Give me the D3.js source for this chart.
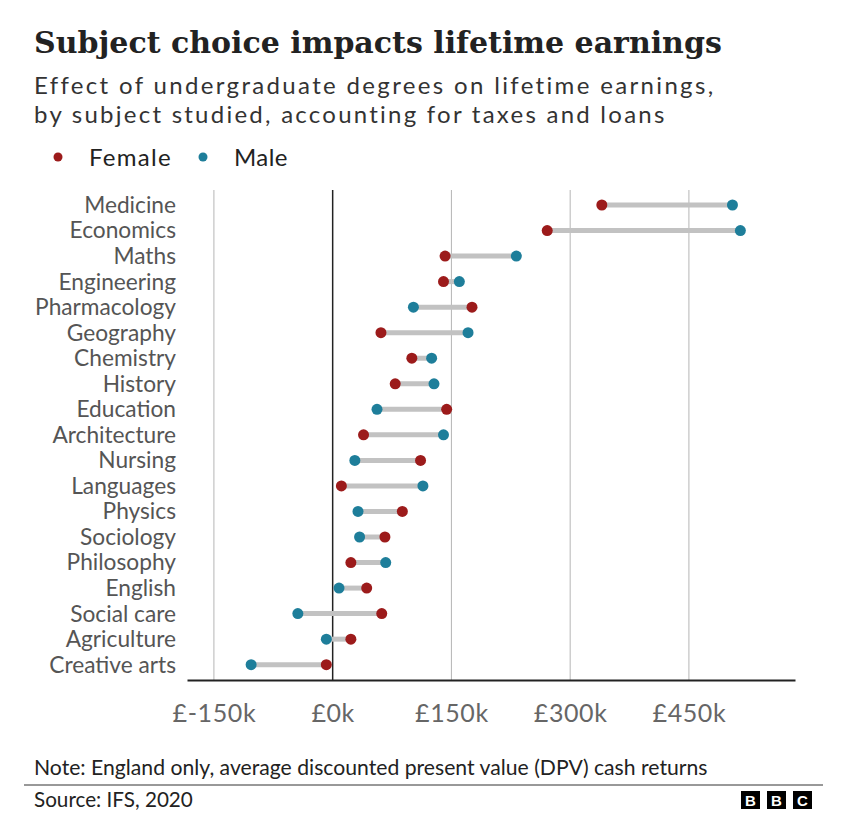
<!DOCTYPE html>
<html>
<head>
<meta charset="utf-8">
<script src="https://cdn.jsdelivr.net/npm/d3@7"></script>
<style>
  html, body { margin: 0; padding: 0; background: #fff; }
  svg { display: block; }
</style>
</head>
<body>
<svg id="chart" width="845" height="815"></svg>
<script>
const categories = ["Medicine","Economics","Maths","Engineering","Pharmacology","Geography","Chemistry","History","Education","Architecture","Nursing","Languages","Physics","Sociology","Philosophy","English","Social care","Agriculture","Creative arts"];
const femaleValues = [340, 271, 142, 140, 176, 61, 100, 79, 144, 39, 111, 11, 88, 66, 23, 43, 62, 23, -8];
const maleValues   = [505, 515, 232, 160, 102, 171, 125, 128, 56, 140, 28, 114, 32, 34, 67, 8, -44, -8, -103];
const tickValues = [-150, 0, 150, 300, 450];
const tickLabels = ["£-150k", "£0k", "£150k", "£300k", "£450k"];
const seriesNames = ["Female", "Male"];
const titleText = "Subject choice impacts lifetime earnings";
const subtitleLines = ["Effect of undergraduate degrees on lifetime earnings,", "by subject studied, accounting for taxes and loans"];
const noteText = "Note: England only, average discounted present value (DPV) cash returns";
const sourceText = "Source: IFS, 2020";

const FEMALE = "#9c1b1b", MALE = "#1e7e9a";
const SANS = "Lato, 'Noto Sans', 'Liberation Sans', sans-serif";
const SERIF = "'DejaVu Serif', 'Liberation Serif', serif";

const svg = d3.select("#chart");

function fit(sel, target, base) {
  sel.attr("font-size", base);
  const w = sel.node().getComputedTextLength();
  sel.attr("font-size", base * target / w);
}
function spread(sel, target, size) {
  sel.attr("font-size", size).attr("letter-spacing", 0);
  const w = sel.node().getComputedTextLength();
  const n = sel.text().length;
  sel.attr("letter-spacing", ((target - w) / n).toFixed(3));
}

// Title
const title = svg.append("text").attr("x", 34).attr("y", 53)
  .attr("font-family", SERIF).attr("font-weight", "bold").attr("fill", "#222")
  .text(titleText);
fit(title, 688, 34);

// Subtitle
const subW = [681, 633];
subtitleLines.forEach((t, i) => {
  const s = svg.append("text").attr("x", 34).attr("y", 94 + i * 29)
    .attr("font-family", SANS).attr("fill", "#333").text(t);
  spread(s, subW[i], 24);
});

// Legend
const legendDotX = [58, 203], legendTextX = [89, 234], legendW = [83, 54];
seriesNames.forEach((n, i) => {
  svg.append("circle").attr("cx", legendDotX[i]).attr("cy", 157).attr("r", 4.5)
    .attr("fill", i === 0 ? FEMALE : MALE);
  const t = svg.append("text").attr("x", legendTextX[i]).attr("y", 166)
    .attr("font-family", SANS).attr("fill", "#222").text(n);
  spread(t, legendW[i], 24);
});

// Scales
const x = d3.scaleLinear().domain([-184, 584]).range([187, 795]);
const y = d3.scalePoint().domain(categories).range([205, 664.7]);

// Gridlines
svg.append("g").selectAll("line").data(tickValues).join("line")
  .attr("x1", d => x(d)).attr("x2", d => x(d))
  .attr("y1", 190).attr("y2", 680)
  .attr("stroke", d => d === 0 ? "#222" : "#b5b5b5")
  .attr("stroke-width", d => d === 0 ? 1.5 : 1);

// Axis
const axis = svg.append("g").attr("transform", "translate(0,680)")
  .call(d3.axisBottom(x).tickValues(tickValues)
    .tickFormat((d, i) => tickLabels[i]).tickSize(0).tickSizeOuter(0).tickPadding(24));
axis.select(".domain").attr("stroke", "#222").attr("stroke-width", 2);
axis.selectAll("text").attr("font-family", SANS).attr("font-size", 25)
  .attr("letter-spacing", 0.6).attr("fill", "#666");

// Category labels
const labels = svg.append("g").selectAll("text").data(categories).join("text")
  .attr("x", 176).attr("y", d => y(d)).attr("dy", "0.35em")
  .attr("text-anchor", "end").attr("font-family", SANS).attr("fill", "#555")
  .text(d => d);
const pharm = labels.filter(d => d === "Pharmacology");
pharm.attr("font-size", 20);
const pw = pharm.node().getComputedTextLength();
labels.attr("font-size", 20 * 141 / pw);

// Dumbbells
const rows = categories.map((c, i) => ({ c, f: femaleValues[i], m: maleValues[i] }));
const g = svg.append("g");
g.selectAll("line").data(rows).join("line")
  .attr("x1", d => x(d.f)).attr("x2", d => x(d.m))
  .attr("y1", d => y(d.c)).attr("y2", d => y(d.c))
  .attr("stroke", "#c2c2c2").attr("stroke-width", 5);
g.selectAll("circle.f").data(rows).join("circle").attr("class", "f")
  .attr("cx", d => x(d.f)).attr("cy", d => y(d.c)).attr("r", 5.5).attr("fill", FEMALE);
g.selectAll("circle.m").data(rows).join("circle").attr("class", "m")
  .attr("cx", d => x(d.m)).attr("cy", d => y(d.c)).attr("r", 5.5).attr("fill", MALE);

// Footer
const note = svg.append("text").attr("x", 34).attr("y", 775)
  .attr("font-family", SANS).attr("fill", "#222").text(noteText);
fit(note, 674, 18);
svg.append("line").attr("x1", 24).attr("x2", 823).attr("y1", 785).attr("y2", 785)
  .attr("stroke", "#333").attr("stroke-width", 1);
const src = svg.append("text").attr("x", 34).attr("y", 807)
  .attr("font-family", SANS).attr("fill", "#222").text(sourceText);
fit(src, 159, 18);

// BBC logo
const logo = svg.append("g");
["B", "B", "C"].forEach((ch, i) => {
  logo.append("rect").attr("x", 741 + i * 26).attr("y", 791).attr("width", 19).attr("height", 18).attr("fill", "#000");
  logo.append("text").attr("x", 741 + i * 26 + 9.5).attr("y", 806).attr("text-anchor", "middle")
    .attr("font-family", "'Liberation Sans', Arial, sans-serif").attr("font-weight", "bold")
    .attr("font-size", 15).attr("fill", "#fff").text(ch);
});
</script>
</body>
</html>
